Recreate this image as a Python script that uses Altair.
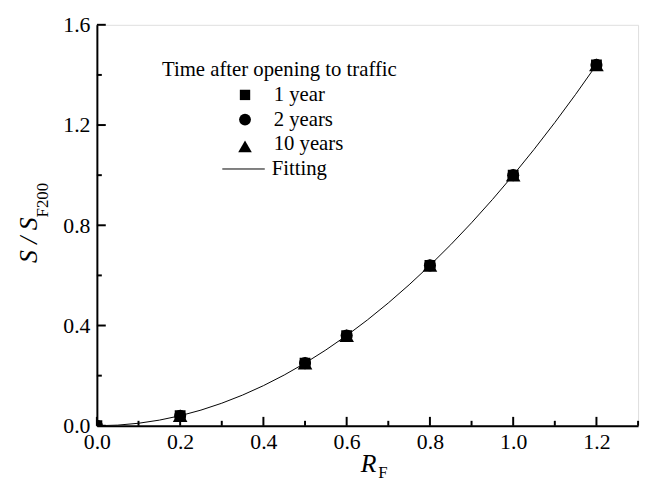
import altair as alt
import pandas as pd

# ---------------- data ----------------
x_pts = [0.0, 0.2, 0.5, 0.6, 0.8, 1.0, 1.2]
y_1year = [0.0, 0.04, 0.25, 0.36, 0.64, 1.0, 1.44]
y_2years = [0.0, 0.04, 0.25, 0.36, 0.64, 1.0, 1.44]
y_10years = [0.0, 0.04, 0.25, 0.36, 0.64, 1.0, 1.44]

fit_x = [0.0, 0.05, 0.1, 0.15, 0.2, 0.25, 0.3, 0.35, 0.4, 0.45, 0.5, 0.55, 0.6,
         0.65, 0.7, 0.75, 0.8, 0.85, 0.9, 0.95, 1.0, 1.05, 1.1, 1.15, 1.2]
fit_y = [0.0, 0.0025, 0.01, 0.0225, 0.04, 0.0625, 0.09, 0.1225, 0.16, 0.2025, 0.25,
         0.3025, 0.36, 0.4225, 0.49, 0.5625, 0.64, 0.7225, 0.81, 0.9025, 1.0,
         1.1025, 1.21, 1.3225, 1.44]

x_major = [0.0, 0.2, 0.4, 0.6, 0.8, 1.0, 1.2]
x_minor = [0.1, 0.3, 0.5, 0.7, 0.9, 1.1, 1.3]
y_major = [0.0, 0.4, 0.8, 1.2, 1.6]
y_minor = [0.2, 0.6, 1.0, 1.4]

legend_title = "Time after opening to traffic"
series_names = ["1 year", "2 years", "10 years"]
fit_name = "Fitting"

# ---------------- layout / style ----------------
W, H = 548, 406
FONT = "Liberation Serif, Times New Roman, serif"
TICK_FS = 22

xs = alt.Scale(domain=[0, 1.3], nice=False, zero=False)
ys = alt.Scale(domain=[0, 1.6], nice=False, zero=False)

axis_common = dict(
    grid=False, ticks=False, tickSize=0, domainColor="black", domainWidth=2,
    labelFont=FONT, labelFontSize=TICK_FS, labelColor="black",
    labelFlush=False, labelOverlap=False, labelBound=False, format=".1f",
)
x_axis = alt.Axis(values=x_major, labelPadding=6, **axis_common)
y_axis = alt.Axis(values=y_major, labelPadding=7, **axis_common)


def X(field):
    return alt.X(field, scale=xs, axis=x_axis, title=None)


def Y(field):
    return alt.Y(field, scale=ys, axis=y_axis, title=None)


fit_df = pd.DataFrame({"x": fit_x, "y": fit_y})
fit_line = alt.Chart(fit_df).mark_line(color="black", strokeWidth=1, clip=True).encode(
    x=X("x:Q"), y=Y("y:Q"))


def series_layer(yvals, shape, size):
    df = pd.DataFrame({"x": x_pts, "y": yvals})
    return alt.Chart(df).mark_point(
        shape=shape, filled=True, size=size, color="black", opacity=1, clip=True
    ).encode(x=X("x:Q"), y=Y("y:Q"))


p1 = series_layer(y_1year, "square", 120)
p2 = series_layer(y_2years, "circle", 150)
p3 = series_layer(y_10years, "triangle-up", 220)


# inward ticks
def xticks(vals, length):
    return alt.Chart(pd.DataFrame({"v": vals})).mark_rule(color="black", strokeWidth=2).encode(
        x=X("v:Q"), y=alt.value(H), y2=alt.value(H - length))


def yticks(vals, length):
    return alt.Chart(pd.DataFrame({"v": vals})).mark_rule(color="black", strokeWidth=2).encode(
        y=Y("v:Q"), x=alt.value(0), x2=alt.value(length))


ticks = [xticks(x_major, 9), xticks(x_minor, 5), yticks(y_major, 9), yticks(y_minor, 5)]


def txt(s, x, y, size, align="left", baseline="middle", angle=0, style="normal"):
    return alt.Chart(pd.DataFrame({"t": [s]})).mark_text(
        font=FONT, fontSize=size, align=align, baseline=baseline, angle=angle,
        fontStyle=style, color="black",
    ).encode(text="t:N", x=alt.value(x), y=alt.value(y))


def sym(shape, x, y, size):
    return alt.Chart(pd.DataFrame({"a": [0]})).mark_point(
        shape=shape, filled=True, size=size, color="black", opacity=1
    ).encode(x=alt.value(x), y=alt.value(y))


# axis titles
y_title = [
    txt("S / S", -61, 195, 26, align="right", baseline="alphabetic", angle=270, style="italic"),
    txt("F200", -50, 195, 17, align="left", baseline="alphabetic", angle=270),
]
x_title = [
    txt("R", 283, 453, 26, align="right", baseline="alphabetic", style="italic"),
    txt("F", 285, 459, 17, align="left", baseline="alphabetic"),
]

# legend
LX_SYM, LX_TXT = 150, 179
rows = [71, 96, 121, 146]
legend = [
    txt(legend_title, 66, 52, 21, baseline="alphabetic"),
    sym("square", LX_SYM, rows[0], 110),
    sym("circle", LX_SYM, rows[1], 144),
    sym("triangle-up", LX_SYM, rows[2] + 2, 190),
    alt.Chart(pd.DataFrame({"a": [0]})).mark_rule(color="black", strokeWidth=1).encode(
        x=alt.value(127), x2=alt.value(170), y=alt.value(rows[3])),
    txt(series_names[0], LX_TXT, rows[0], 21),
    txt(series_names[1], LX_TXT, rows[1], 21),
    txt(series_names[2], LX_TXT, rows[2], 21),
    txt(fit_name, LX_TXT - 2, rows[3], 21),
]

chart = alt.layer(fit_line, p1, p2, p3, *ticks, *y_title, *x_title, *legend).properties(
    width=W, height=H,
    autosize=alt.AutoSizeParams(type="none"),
    padding={"left": 90, "top": 14, "right": 6, "bottom": 60},
).configure_view(stroke=None).configure(background="white")

chart.save("out.html", embed_options={"renderer": "svg", "actions": False})
